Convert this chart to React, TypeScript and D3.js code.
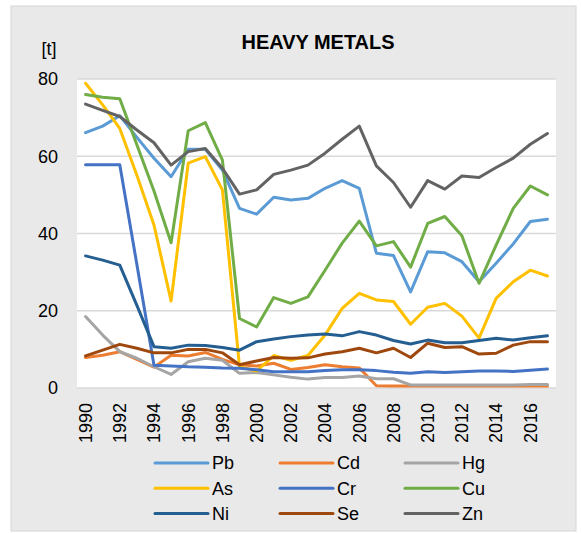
import React from "react";
import * as d3 from "d3";

const years = d3.range(1990, 2018);
const yTicks = [0, 20, 40, 60, 80];
const xTickYears = d3.range(1990, 2018, 2);

const Pb = [66.1, 67.8, 70.5, 64.9, 59.5, 54.7, 61.8, 61.8, 56.4, 46.5, 45.0, 49.4, 48.7, 49.1, 51.7, 53.7, 51.7, 34.9, 34.3, 24.9, 35.3, 35.0, 32.7, 27.5, 32.3, 37.3, 43.1, 43.7];
const Cd = [7.9, 8.5, 9.4, 7.4, 5.4, 8.5, 8.3, 9.2, 7.4, 6.0, 5.7, 6.4, 4.8, 5.3, 6.0, 5.5, 5.2, 0.6, 0.5, 0.5, 0.5, 0.5, 0.5, 0.5, 0.5, 0.5, 0.5, 0.5];
const Hg = [18.5, 13.7, 9.4, 7.7, 5.5, 3.5, 6.8, 7.7, 7.2, 3.8, 4.0, 3.4, 2.8, 2.3, 2.7, 2.7, 3.1, 2.4, 2.4, 0.8, 0.8, 0.8, 0.8, 0.8, 0.8, 0.8, 0.9, 0.9];
const As = [78.9, 73.3, 67.2, 55.1, 42.2, 22.5, 58.2, 59.9, 51.3, 5.5, 4.4, 8.4, 7.2, 8.4, 13.7, 20.6, 24.5, 22.8, 22.4, 16.5, 20.9, 21.9, 18.6, 12.9, 23.2, 27.5, 30.5, 29.0];
const Cr = [57.8, 57.8, 57.8, 32.0, 5.9, 5.7, 5.5, 5.4, 5.2, 5.1, 4.7, 4.2, 4.2, 4.2, 4.5, 4.7, 4.7, 4.5, 4.1, 3.8, 4.2, 4.0, 4.2, 4.4, 4.4, 4.3, 4.6, 4.9];
const Cu = [76.0, 75.3, 74.9, 63.0, 51.0, 37.6, 66.6, 68.7, 59.0, 18.0, 15.8, 23.4, 21.9, 23.6, 30.5, 37.5, 43.2, 36.8, 37.9, 31.3, 42.6, 44.4, 39.4, 27.1, 37.0, 46.5, 52.3, 50.0];
const Ni = [34.2, 33.1, 31.8, 21.4, 10.7, 10.3, 11.1, 11.0, 10.5, 9.8, 12.0, 12.7, 13.3, 13.7, 14.0, 13.5, 14.6, 13.7, 12.3, 11.4, 12.4, 11.7, 11.7, 12.3, 12.9, 12.4, 13.0, 13.5];
const Se = [8.3, 9.8, 11.3, 10.3, 9.1, 9.1, 10.0, 10.0, 9.1, 6.0, 7.0, 7.9, 7.7, 7.8, 8.8, 9.4, 10.3, 9.1, 10.3, 7.9, 11.6, 10.5, 10.7, 8.8, 9.0, 11.1, 12.0, 12.0];
const Zn = [73.5, 71.9, 70.3, 66.8, 63.5, 57.7, 61.2, 62.0, 56.9, 50.2, 51.3, 55.3, 56.4, 57.7, 60.8, 64.4, 67.8, 57.5, 53.2, 46.8, 53.7, 51.5, 54.9, 54.5, 57.1, 59.5, 63.1, 65.9];

const seriesNames = ["Pb", "Cd", "Hg", "As", "Cr", "Cu", "Ni", "Se", "Zn"];
const seriesValues = [Pb, Cd, Hg, As, Cr, Cu, Ni, Se, Zn];
const seriesColors = ["#5B9BD5", "#ED7D31", "#A5A5A5", "#FFC000", "#4472C4", "#70AD47", "#255E91", "#9E480E", "#636363"];

// draw order (back to front) roughly like Excel: series order
const W = 582, H = 533;
const plot = { left: 77, right: 556, top: 79, bottom: 388 };

export default function App() {
  const x = d3.scaleBand<number>().domain(years).range([plot.left, plot.right]);
  const cx = (yr: number) => (x(yr) as number) + x.bandwidth() / 2;
  const y = d3.scaleLinear().domain([0, 80]).range([plot.bottom, plot.top]);
  const line = d3
    .line<number>()
    .x((_, i) => cx(years[i]))
    .y((d) => y(d));

  const font = "'Liberation Sans', Arial, sans-serif";

  return (
    <svg width={W} height={H} style={{ position: "absolute", left: 0, top: 0 }} fontFamily={font}>
      <rect x={0} y={0} width={W} height={H} fill="#ffffff" />
      <rect x={11} y={6} width={565} height={525} fill="#E9E9E9" stroke="#D6D6D6" strokeWidth={1} />
      <rect x={plot.left} y={plot.top} width={plot.right - plot.left} height={plot.bottom - plot.top} fill="#ffffff" />
      {yTicks.map((t) => (
        <line key={t} x1={plot.left} x2={plot.right} y1={y(t)} y2={y(t)} stroke="#D9D9D9" strokeWidth={1.5} />
      ))}
      {yTicks.map((t) => (
        <text key={"l" + t} x={58} y={y(t)} dy="0.35em" textAnchor="end" fontSize={18} fill="#000">
          {t}
        </text>
      ))}
      <text x={49} y={55} textAnchor="middle" fontSize={18} fill="#000">[t]</text>
      <text x={318} y={49} textAnchor="middle" fontSize={20} fontWeight="bold" fill="#000" textLength={153} lengthAdjust="spacingAndGlyphs">
        HEAVY METALS
      </text>
      {xTickYears.map((yr) => (
        <text key={yr} transform={`translate(${cx(yr)},403) rotate(-90)`} dy="0.35em" textAnchor="end" fontSize={18} fill="#000">
          {yr}
        </text>
      ))}
      <g fill="none" strokeWidth={3} strokeLinejoin="round" strokeLinecap="round">
        {seriesValues.map((vals, i) => (
          <path key={seriesNames[i]} d={line(vals) as string} stroke={seriesColors[i]} />
        ))}
      </g>
      {seriesNames.map((name, i) => {
        const col = i % 3;
        const row = Math.floor(i / 3);
        const lx = 155 + col * 125;
        const ly = 463 + row * 25.2;
        return (
          <g key={"lg" + name}>
            <line x1={lx} x2={lx + 53} y1={ly} y2={ly} stroke={seriesColors[i]} strokeWidth={3} strokeLinecap="round" />
            <text x={lx + 57} y={ly} dy="0.35em" fontSize={18} fill="#000">{name}</text>
          </g>
        );
      })}
    </svg>
  );
}
